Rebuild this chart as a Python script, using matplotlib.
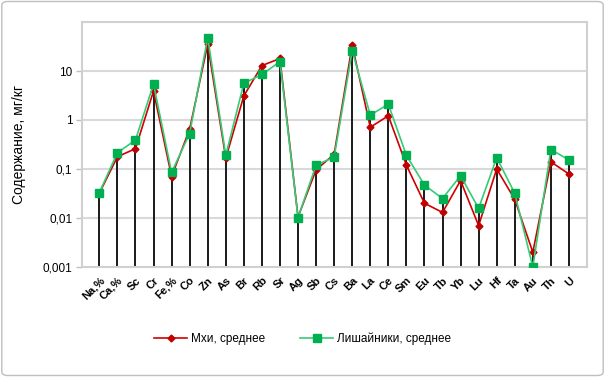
import matplotlib
matplotlib.use("Agg")
import matplotlib.pyplot as plt
from matplotlib.patches import FancyBboxPatch
from matplotlib.ticker import FixedLocator, NullLocator
import numpy as np

categories = ["Na,%", "Ca,%", "Sc", "Cr", "Fe,%", "Co", "Zn", "As", "Br", "Rb", "Sr",
              "Ag", "Sb", "Cs", "Ba", "La", "Ce", "Sm", "Eu", "Tb", "Yb", "Lu", "Hf",
              "Ta", "Au", "Th", "U"]
mosses = [0.032, 0.178, 0.26, 3.9, 0.07, 0.65, 35, 0.166, 3.1, 12.9, 18,
          0.0105, 0.096, 0.2, 34, 0.71, 1.22, 0.12, 0.02, 0.013, 0.058, 0.007, 0.1,
          0.024, 0.002, 0.14, 0.079]
lichens = [0.033, 0.215, 0.39, 5.4, 0.085, 0.53, 48, 0.19, 5.6, 8.5, 15.5,
           0.0102, 0.12, 0.175, 26, 1.26, 2.1, 0.19, 0.047, 0.025, 0.073, 0.0157, 0.17,
           0.032, 0.001, 0.25, 0.153]
ytick_vals = [0.001, 0.01, 0.1, 1, 10]
ytick_labels = ["0,001", "0,01", "0,1", "1", "10"]

plt.rcParams['font.family'] = ['Liberation Sans', 'DejaVu Sans']

fig = plt.figure(figsize=(6.05, 3.77), dpi=100)
fig.patches.append(FancyBboxPatch((0.003, 0.004), 0.994, 0.992, boxstyle="round,pad=0,rounding_size=0.01",
                                  transform=fig.transFigure, fill=False, edgecolor="#bfbfbf", lw=1.0))

ax = fig.add_axes([82/605, 1-267/377, (587-82)/605, (267-22)/377])
x = np.arange(len(categories))

ax.set_yscale("log")
ax.set_ylim(0.001, 100)
ax.set_xlim(-0.96, len(categories) - 1 + 1.0)

for v in [0.01, 0.1, 1, 10]:
    ax.axhline(v, color="#d9d9d9", lw=1.5, zorder=0)

top = np.maximum(mosses, lichens)
ax.vlines(x, 0.001, top, colors="#1a1a1a", lw=1.4, zorder=1)

ax.plot(x, mosses, color="#d00000", lw=1.2, marker="D", markersize=3.5,
        markerfacecolor="#c00000", markeredgecolor="#c00000", label="Мхи, среднее", zorder=3)
ax.plot(x, lichens, color="#33cc77", lw=1.2, marker="s", markersize=5.2,
        markerfacecolor="#00b050", markeredgecolor="#00b050", label="Лишайники, среднее", zorder=4)

ax.yaxis.set_major_locator(FixedLocator(ytick_vals))
ax.yaxis.set_minor_locator(NullLocator())
ax.set_yticks(ytick_vals)
ax.set_yticklabels(ytick_labels, fontsize=8.5)
ax.tick_params(axis="y", length=4, color="#bfbfbf", width=1, pad=3)

ax.set_xticks(x)
ax.set_xticklabels(categories, rotation=45, ha="right", rotation_mode="anchor",
                   fontsize=8, fontweight="bold")
ax.tick_params(axis="x", length=0, pad=6)

for s in ax.spines.values():
    s.set_color("#d0d0d0")
    s.set_linewidth(1.5)

ax.set_ylabel("Содержание, мг/кг", fontsize=10, labelpad=12)

ax.legend(loc="center", bbox_to_anchor=(0.5, 1-339/377), bbox_transform=fig.transFigure,
          ncol=2, frameon=False, fontsize=8.5, handlelength=2.8, columnspacing=3, handletextpad=0.3)

fig.savefig("out.png", dpi=100)
